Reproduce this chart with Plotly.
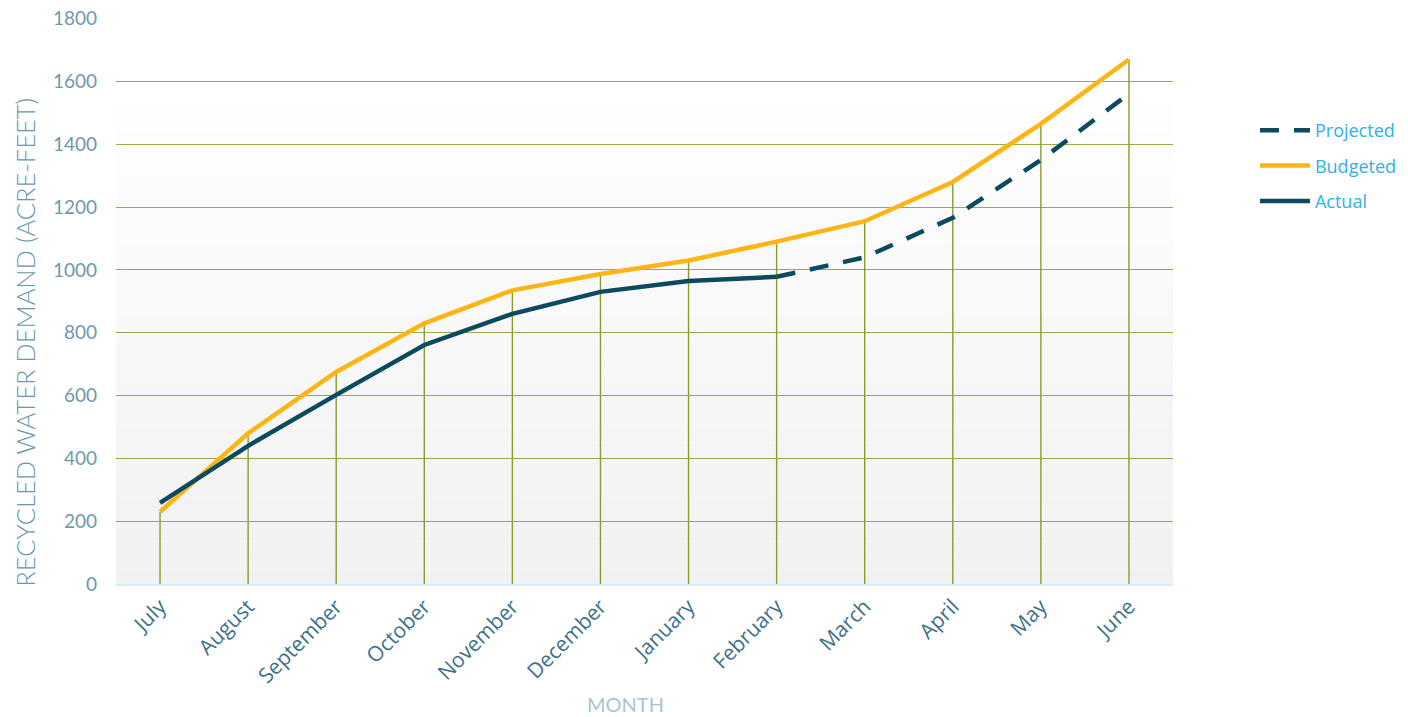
import plotly.graph_objects as go

months = ["July", "August", "September", "October", "November", "December",
          "January", "February", "March", "April", "May", "June"]
budgeted = [230, 480, 675, 830, 935, 987, 1030, 1090, 1155, 1280, 1465, 1670]
actual = [258, 440, 602, 761, 860, 930, 965, 978]
projected_months = ["February", "March", "April", "May", "June"]
projected = [978, 1040, 1166, 1350, 1561]
y_ticks = [0, 200, 400, 600, 800, 1000, 1200, 1400, 1600, 1800]

idx = {m: i for i, m in enumerate(months)}
xb = list(range(len(months)))
xa = xb[:len(actual)]
xp = [idx[m] for m in projected_months]

GRID = "#9aaa45"
DROP = "#8c9b2e"
DARK = "#0b4a5f"
GOLD = "#fdb515"

fig = go.Figure()

# vertical drop lines from each budgeted value down to the axis
dx, dy = [], []
for x, y in zip(xb, budgeted):
    dx += [x, x, None]
    dy += [0, y, None]
fig.add_trace(go.Scatter(x=dx, y=dy, mode="lines", line=dict(color=DROP, width=1.4),
                         showlegend=False, hoverinfo="skip"))

fig.add_trace(go.Scatter(x=xb, y=budgeted, mode="lines", name="Budgeted",
                         line=dict(color=GOLD, width=4.5), legendrank=2, legendgroup="b"))
fig.add_trace(go.Scatter(x=xa, y=actual, mode="lines", name="Actual",
                         line=dict(color=DARK, width=4.5), legendrank=3, legendgroup="a"))
fig.add_trace(go.Scatter(x=xp, y=projected, mode="lines", name="Projected",
                         line=dict(color=DARK, width=4.5, dash="19px,15px"),
                         legendrank=1, legendgroup="p"))

# gradient background (below gridlines)
n = 40
shapes = []
for i in range(n):
    t = (i + 0.5) / n  # 0 bottom -> 1 top
    v = round(241 + (255 - 241) * min(1.0, t * 1.12))
    c = f"rgb({v},{v},{v})"
    shapes.append(dict(type="rect", xref="paper", yref="paper", x0=0, x1=1,
                       y0=i / n, y1=(i + 1) / n, fillcolor=c, line=dict(width=0),
                       layer="below"))

fig.update_layout(
    width=1408, height=717,
    margin=dict(l=116, r=235, t=18, b=133, autoexpand=False),
    paper_bgcolor="white", plot_bgcolor="white",
    shapes=shapes,
    showlegend=True,
    legend=dict(xref="container", yref="container", x=0.8913, xanchor="left",
                y=0.8438, yanchor="top",
                font=dict(family="Open Sans", size=18, color="#2ab4e6"),
                itemwidth=50, tracegroupgap=9, bgcolor="rgba(0,0,0,0)"),
    annotations=[
        dict(text="MONTH", xref="paper", yref="paper", x=0.482, y=-0.212,
             xanchor="center", yanchor="middle", showarrow=False,
             font=dict(family="Lato", size=20, color="#a9c5d2")),
        dict(text="RECYCLED WATER DEMAND (ACRE-FEET)", xref="paper", yref="paper",
             x=-0.0862, y=0.428, xanchor="center", yanchor="middle", showarrow=False,
             textangle=-90,
             font=dict(family="Lato", size=25.5, color="#6c97ad", weight=300)),
    ],
    xaxis=dict(range=[-0.5, 11.5], tickvals=xb, ticktext=months, tickangle=-45,
               showgrid=False, zeroline=False, showline=True, linecolor="#d4eef9",
               linewidth=2, automargin=False,
               tickfont=dict(family="Open Sans", size=21, color="#3f7189")),
    yaxis=dict(range=[0, 1802], tickvals=y_ticks, showgrid=True, gridcolor=GRID,
               gridwidth=1.4, zeroline=False, automargin=False,
               tickfont=dict(family="Lato", size=19, color="#7098ab"),
               ticklabelstandoff=18),
)

fig.write_html("out.html")
